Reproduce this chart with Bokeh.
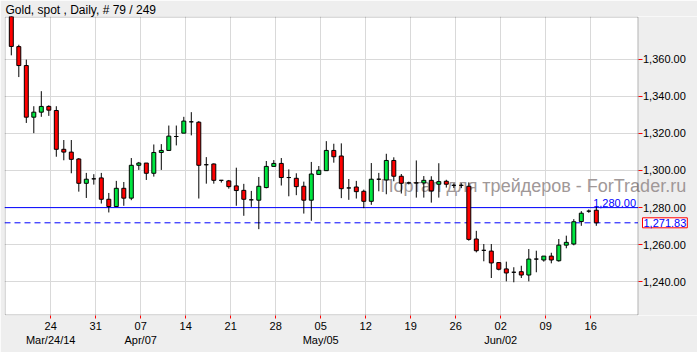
import pandas as pd
from bokeh.plotting import figure
from bokeh.models import (Range1d, FixedTicker, LinearAxis, NumeralTickFormatter, Label,
                          ColumnDataSource, BoxAnnotation)
from bokeh.embed import file_html
from bokeh.resources import INLINE

title_text = "Gold, spot , Daily, # 79 / 249"
watermark_text = "Портал для трейдеров - ForTrader.ru"

# trading days (Sunday..Friday sessions), 79 candles
dates = [d for d in pd.date_range("2014-03-18", "2014-06-17") if d.weekday() != 5]

opens = [1385.0, 1366.7, 1356.5, 1328.7, 1331.4, 1334.5, 1332.3, 1311.4, 1309.9, 1306.2,
         1293.1, 1295.5, 1296.0, 1284.5, 1280.6, 1290.4, 1285.1, 1302.8, 1304.0, 1298.5,
         1309.7, 1310.8, 1318.3, 1320.1, 1326.2, 1326.0, 1303.1, 1303.5, 1294.7, 1294.4,
         1291.7, 1289.3, 1284.2, 1284.0, 1290.8, 1302.2, 1303.8, 1296.2, 1295.8, 1291.5,
         1284.0, 1297.9, 1299.9, 1310.8, 1307.8, 1290.6, 1291.1, 1288.8, 1283.4, 1295.3,
         1294.9, 1305.4, 1296.9, 1293.3, 1293.3, 1293.3, 1294.7, 1292.6, 1294.2, 1292.0,
         1292.0, 1291.5, 1263.1, 1257.0, 1256.6, 1250.4, 1247.0, 1245.2, 1245.5, 1243.7,
         1252.3, 1251.8, 1253.9, 1251.4, 1259.8, 1260.4, 1272.5, 1278.1, 1278.6]
highs = [1388.0, 1367.7, 1359.7, 1334.6, 1342.7, 1335.1, 1334.6, 1316.4, 1316.4, 1306.7,
         1298.7, 1298.0, 1298.7, 1287.9, 1294.4, 1293.8, 1306.7, 1304.6, 1304.0, 1314.0,
         1314.2, 1324.2, 1324.2, 1328.9, 1331.4, 1326.6, 1307.2, 1303.8, 1294.7, 1294.9,
         1301.5, 1292.8, 1289.0, 1296.5, 1305.1, 1305.6, 1306.7, 1300.6, 1298.5, 1294.0,
         1304.6, 1302.4, 1315.8, 1314.4, 1314.6, 1295.4, 1294.4, 1289.7, 1304.0, 1298.7,
         1309.0, 1307.1, 1298.1, 1294.0, 1305.4, 1297.0, 1296.9, 1303.9, 1295.0, 1293.0,
         1293.1, 1293.6, 1267.5, 1260.4, 1260.4, 1250.7, 1250.9, 1247.9, 1248.7, 1257.7,
         1256.8, 1253.9, 1255.7, 1263.1, 1264.9, 1273.8, 1278.1, 1279.0, 1280.4]
lows = [1362.0, 1350.3, 1325.6, 1320.1, 1328.9, 1329.4, 1307.4, 1305.5, 1298.5, 1288.6,
        1285.2, 1292.4, 1282.2, 1277.4, 1280.6, 1281.0, 1284.0, 1300.3, 1294.9, 1296.7,
        1300.3, 1310.8, 1313.5, 1320.1, 1318.9, 1284.9, 1292.9, 1292.9, 1293.5, 1290.2,
        1281.0, 1275.6, 1280.4, 1268.4, 1290.4, 1302.2, 1291.9, 1286.1, 1286.7, 1276.8,
        1272.9, 1297.9, 1299.9, 1304.2, 1285.1, 1284.2, 1284.9, 1279.7, 1281.5, 1288.8,
        1287.2, 1294.2, 1287.6, 1292.5, 1285.4, 1285.4, 1282.7, 1285.4, 1290.8, 1290.6,
        1290.5, 1262.2, 1255.9, 1251.1, 1242.1, 1246.2, 1240.3, 1239.8, 1242.1, 1240.3,
        1245.2, 1250.9, 1250.0, 1250.9, 1258.1, 1259.7, 1270.2, 1277.2, 1270.2]
closes = [1366.8, 1356.5, 1328.7, 1331.4, 1334.5, 1332.5, 1311.4, 1309.9, 1306.0, 1293.1,
          1295.3, 1295.5, 1284.5, 1280.6, 1290.4, 1285.1, 1302.8, 1304.0, 1298.5, 1309.7,
          1310.8, 1318.5, 1318.3, 1326.6, 1326.2, 1302.8, 1303.1, 1294.7, 1294.7, 1291.3,
          1289.2, 1284.5, 1284.2, 1291.5, 1302.2, 1303.8, 1296.2, 1296.2, 1291.3, 1284.0,
          1298.1, 1300.1, 1310.8, 1307.4, 1290.2, 1290.6, 1288.6, 1283.4, 1295.3, 1295.3,
          1305.4, 1296.9, 1293.1, 1293.3, 1293.3, 1294.7, 1289.0, 1294.0, 1292.6, 1292.0,
          1292.0, 1262.9, 1256.8, 1257.0, 1250.2, 1246.8, 1244.8, 1245.2, 1243.7, 1252.3,
          1252.3, 1253.9, 1251.8, 1259.8, 1261.3, 1272.4, 1277.0, 1278.1, 1271.83]

price_ticks = [1240, 1260, 1280, 1300, 1320, 1340, 1360]
level_price = 1280.00
last_price = 1271.83
day_labels = ["24", "31", "07", "14", "21", "28", "05", "12", "19", "26", "02", "09", "16"]
month_labels = ["Mar/24/14", "Apr/07", "May/05", "Jun/02"]
month_label_days = ["24", "07", "05", "02"]   # which Monday tick carries a month label

# ---- geometry / style ----
W, H = 697, 352
FL, FT, FB = 4, 15, 315          # frame left / top / bottom in canvas pixels (frame runs to W)
PANE_R = 637.5                   # right edge of the chart pane (pixels)
CX0, CDX = 10.8, 7.5             # pixel x of first candle, pixels per candle
PY_REF, P_REF, PX_PER = 57.7, 1360.0, 1.8633   # price <-> pixel mapping


def px2x(px):
    return (px - CX0) / CDX


def py2y(py):
    return P_REF - (py - PY_REF) / PX_PER


X0, X1 = px2x(FL), px2x(W)
Y0, Y1 = py2y(FB), py2y(FT)
FONT = "Liberation Sans"
RED = "#FF0000"
GREEN = "#00E640"
GRID = "#D9D9D9"
BG = "#EEEEEE"

xs = list(range(len(dates)))
tops = [max(o, c) for o, c in zip(opens, closes)]
bottoms = [min(o, c) for o, c in zip(opens, closes)]
colors = [GREEN if c > o else (RED if c < o else "black") for o, c in zip(opens, closes)]
src = ColumnDataSource(dict(x=xs, o=opens, h=highs, l=lows, c=closes, top=tops, bottom=bottoms, color=colors))

mondays = [i for i, d in enumerate(dates) if d.weekday() == 0]
tick_pos = [i + 0.25 for i in mondays]
day_over = {t: lab for t, lab in zip(tick_pos, day_labels)}
month_pos = []
month_over = {}
k = 0
for t, lab in zip(tick_pos, day_labels):
    if k < len(month_labels) and lab == month_label_days[k]:
        month_pos.append(t)
        month_over[t] = month_labels[k]
        k += 1

p = figure(width=W, height=H, output_backend="svg", toolbar_location=None,
           x_range=Range1d(X0, X1), y_range=Range1d(Y0, Y1),
           y_axis_location="right", x_axis_location="below",
           min_border_left=FL, min_border_right=0, min_border_top=FT, min_border_bottom=H - FB,
           background_fill_color="white", border_fill_color=BG)
p.outline_line_color = None

# title
p.title.text = title_text
p.title.text_font = FONT
p.title.text_font_size = "12px"
p.title.text_font_style = "normal"
p.title.text_color = "black"
p.title.align = "left"
p.title.vertical_align = "bottom"
p.title.offset = 1
p.title.standoff = 0

# day axis
xa = p.xaxis[0]
xa.ticker = FixedTicker(ticks=tick_pos)
xa.major_label_overrides = day_over
xa.axis_line_color = None
xa.major_tick_line_color = "red"
xa.major_tick_in = 0
xa.major_tick_out = 3
xa.minor_tick_line_color = None
xa.major_label_standoff = 3
xa.major_label_text_font = FONT
xa.major_label_text_font_size = "11px"
xa.major_label_text_color = "black"

# month axis
ma = LinearAxis(ticker=FixedTicker(ticks=month_pos), major_label_overrides=month_over)
ma.axis_line_color = None
ma.major_tick_line_color = None
ma.major_tick_in = 0
ma.major_tick_out = 0
ma.minor_tick_line_color = None
ma.major_label_standoff = 1
ma.major_label_text_font = FONT
ma.major_label_text_font_size = "11px"
ma.major_label_text_color = "black"
p.add_layout(ma, "below")

# price axis, pinned to the right edge of the chart pane
ya = p.yaxis[0]
ya.fixed_location = px2x(PANE_R)
ya.ticker = FixedTicker(ticks=price_ticks)
ya.formatter = NumeralTickFormatter(format="0,0.00")
ya.axis_line_color = None
ya.major_tick_line_color = "red"
ya.major_tick_in = 0
ya.major_tick_out = 4
ya.minor_tick_line_color = None
ya.major_label_standoff = 1
ya.major_label_text_font = FONT
ya.major_label_text_font_size = "11px"
ya.major_label_text_color = "black"

p.xgrid.ticker = FixedTicker(ticks=tick_pos)
p.xgrid.grid_line_color = GRID
p.ygrid.ticker = FixedTicker(ticks=price_ticks)
p.ygrid.grid_line_color = GRID

# grey margin to the right of the chart pane (covers grid lines)
p.add_layout(BoxAnnotation(left=px2x(PANE_R + 0.5), fill_color=BG, fill_alpha=1.0,
                           line_color=None, level="underlay"))

# watermark (under the candles)
p.add_layout(Label(x=px2x(380), y=py2y(185), text=watermark_text, text_font=FONT,
                   text_font_size="18px", text_color="#A09898", text_baseline="middle",
                   text_align="left", level="underlay"))

# level lines
p.segment(x0=[X0], y0=[level_price], x1=[px2x(PANE_R)], y1=[level_price],
          line_color="blue", line_width=1)
p.segment(x0=[X0], y0=[last_price], x1=[px2x(PANE_R)], y1=[last_price],
          line_color="blue", line_width=1, line_dash="6 4")

# candles
p.segment(x0="x", y0="l", x1="x", y1="h", source=src, line_color="black", line_width=1)
p.vbar(x="x", width=0.53, top="top", bottom="bottom", source=src,
       fill_color="color", line_color="black", line_width=1)

# pane border
p.add_layout(BoxAnnotation(left=px2x(FL + 0.5), right=px2x(PANE_R), top=py2y(FT + 0.5),
                           bottom=py2y(FB - 0.5), fill_color=None, fill_alpha=0,
                           line_color="black", line_width=1))

p.add_layout(Label(x=px2x(PANE_R - 2), y=level_price, text=f"{level_price:,.2f}", text_font=FONT,
                   text_font_size="11px", text_color="blue", text_align="right",
                   text_baseline="bottom", y_offset=1))
p.add_layout(Label(x=px2x(PANE_R + 4.5), y=last_price, text=f"{last_price:,.2f}", text_font=FONT,
                   text_font_size="11px", text_color="blue", text_align="left",
                   text_baseline="middle", background_fill_color="white",
                   border_line_color="red", border_line_width=1, padding=1))

open("out.html", "w").write(file_html(p, INLINE))
